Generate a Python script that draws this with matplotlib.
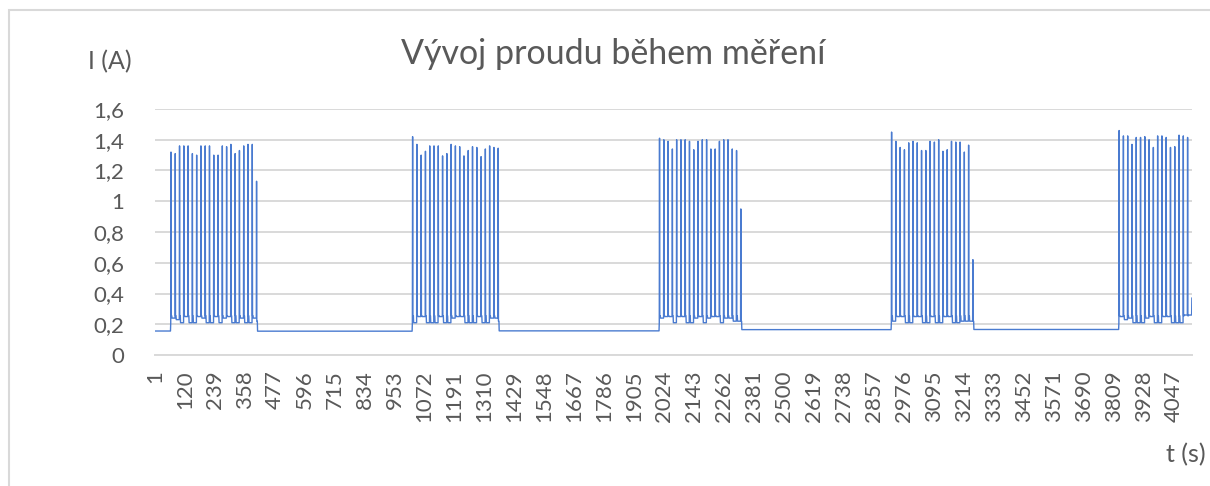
import matplotlib.pyplot as plt
import matplotlib.patches as patches
import numpy as np

plt.rcParams['font.family'] = ['Lato', 'DejaVu Sans']

# data (sample index = time in s)
n_samples = 4120
spike_period = 17
burst_start = [64, 1024, 2005, 2927, 3831]
burst1_peaks = [1.32, 1.31, 1.36, 1.36, 1.36, 1.31, 1.30, 1.36, 1.36, 1.36, 1.30,
                1.30, 1.36, 1.355, 1.37, 1.31, 1.33, 1.36, 1.37, 1.37, 1.13]
burst2_peaks = [1.42, 1.37, 1.30, 1.325, 1.36, 1.36, 1.36, 1.295, 1.31, 1.37, 1.36,
                1.355, 1.295, 1.33, 1.355, 1.35, 1.29, 1.34, 1.36, 1.35, 1.345]
burst3_peaks = [1.41, 1.40, 1.39, 1.34, 1.40, 1.40, 1.40, 1.39, 1.335, 1.39, 1.40,
                1.40, 1.34, 1.34, 1.39, 1.40, 1.40, 1.34, 1.33, 0.95]
burst4_peaks = [1.45, 1.39, 1.35, 1.335, 1.38, 1.39, 1.38, 1.33, 1.33, 1.39, 1.385,
                1.40, 1.325, 1.335, 1.39, 1.385, 1.385, 1.32, 1.365, 0.62]
burst5_peaks = [1.46, 1.425, 1.425, 1.37, 1.415, 1.415, 1.42, 1.40, 1.35, 1.425,
                1.425, 1.415, 1.35, 1.355, 1.43, 1.425, 1.415, 0.37]
# level between spikes (one per gap)
burst1_floor = [0.24, 0.23, 0.21, 0.25, 0.21, 0.21, 0.25, 0.24, 0.21, 0.21,
                0.25, 0.21, 0.24, 0.25, 0.21, 0.21, 0.24, 0.21, 0.21, 0.24]
burst2_floor = [0.21, 0.25, 0.25, 0.21, 0.21, 0.21, 0.25, 0.21, 0.21, 0.24,
                0.25, 0.25, 0.21, 0.21, 0.21, 0.25, 0.21, 0.21, 0.24, 0.24]
burst3_floor = [0.24, 0.25, 0.25, 0.21, 0.25, 0.25, 0.21, 0.21, 0.24, 0.25,
                0.21, 0.24, 0.25, 0.25, 0.21, 0.24, 0.24, 0.22, 0.22]
burst4_floor = [0.22, 0.25, 0.25, 0.21, 0.21, 0.25, 0.25, 0.21, 0.21, 0.25,
                0.21, 0.21, 0.25, 0.25, 0.21, 0.21, 0.22, 0.22, 0.22]
burst5_floor = [0.25, 0.23, 0.24, 0.21, 0.21, 0.21, 0.24, 0.25, 0.21, 0.21,
                0.25, 0.25, 0.21, 0.21, 0.21, 0.26, 0.26]
shoulder = 0.255
idle_level = [0.156, 0.155, 0.157, 0.165, 0.166]

bursts = [(burst1_peaks, burst1_floor), (burst2_peaks, burst2_floor),
          (burst3_peaks, burst3_floor), (burst4_peaks, burst4_floor),
          (burst5_peaks, burst5_floor)]

t = np.arange(1, n_samples + 1)
current = np.full(n_samples, idle_level[0])
prev_end = 0
for i, (peaks, floors) in enumerate(bursts):
    s = burst_start[i] - 1
    current[prev_end:s - 1] = idle_level[i]
    current[s - 1] = 0.21
    for j, p in enumerate(peaks):
        k = s + j * spike_period
        if k >= n_samples:
            break
        current[k] = p
        if j < len(floors):
            current[k + 1:k + 4] = shoulder
            current[k + 4:k + spike_period] = floors[j]
    last = s + (len(peaks) - 1) * spike_period
    current[last + 1:last + 4] = 0.22
    prev_end = min(last + 4, n_samples)
    if i + 1 < len(bursts):
        current[prev_end:] = idle_level[i + 1]

fig = plt.figure(figsize=(12.1, 4.86), dpi=100)
ax = fig.add_axes([155 / 1210, 1 - 355 / 486, 1037 / 1210, 246 / 486])

ax.plot(t, current, color='#4A7BD0', lw=1.0)

grey = '#595959'
ax.set_xlim(0.5, n_samples + 0.5)
ax.set_ylim(0, 1.6)
yt = np.arange(0, 1.61, 0.2)
ax.set_yticks(yt)
ax.set_yticklabels([f"{v:.1f}".rstrip('0').rstrip('.').replace('.', ',') for v in yt])
xt = np.arange(1, n_samples + 1, 119)
ax.set_xticks(xt)
ax.set_xticklabels([str(v) for v in xt], rotation=90, va='top', ha='center')
ax.tick_params(length=0, colors=grey, labelsize=16)
ax.tick_params(axis='y', pad=22)
ax.tick_params(axis='x', pad=11)
ax.grid(axis='y', color='#D9D9D9', lw=1.4)
ax.set_axisbelow(True)
for side in ['top', 'right', 'left']:
    ax.spines[side].set_visible(False)
ax.spines['bottom'].set_color('#D9D9D9')
ax.spines['bottom'].set_linewidth(1.4)

fig.text(613 / 1210, 1 - 64 / 486, 'Vývoj proudu během měření', ha='center',
         va='baseline', fontsize=24.5, color=grey)
fig.text(110 / 1210, 1 - 62 / 486, 'I (A)', ha='center', va='center',
         fontsize=18, color=grey)
fig.text(1186 / 1210, 1 - 455 / 486, 't (s)', ha='center', va='center',
         fontsize=18, color=grey)

fig.patches.append(patches.Rectangle((9 / 1210, -0.1), 1.2, 1 - 10 / 486 + 0.1,
                                     transform=fig.transFigure, fill=False,
                                     edgecolor='#D9D9D9', lw=1.5))

fig.savefig('out.png', dpi=100)
